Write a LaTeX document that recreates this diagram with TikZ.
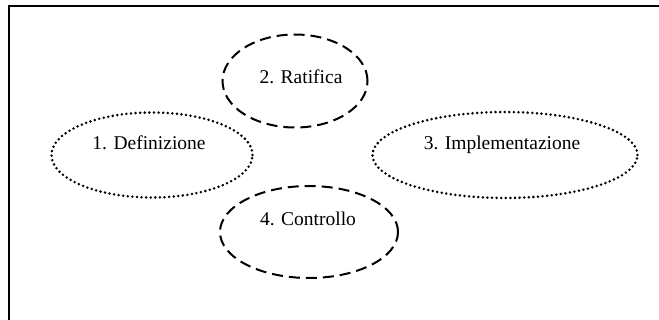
\documentclass[tikz,border=0pt]{standalone}
\usepackage{fontspec}
\setmainfont{Liberation Serif}
\usetikzlibrary{shapes.geometric}
\begin{document}
\begin{tikzpicture}[x=1pt,y=-1pt,
  phase/.style={ellipse,draw=black,line width=2pt,inner sep=0pt},
  dashedphase/.style={phase,dash pattern=on 11pt off 6pt},
  dottedphase/.style={phase,line width=2.8pt,dash pattern=on 0pt off 4.6pt,line cap=round},
  lbl/.style={font=\fontsize{19.5}{22}\selectfont,inner sep=0pt,anchor=base}]
\useasboundingbox (0,0) rectangle (659,320);
\draw[line width=1.6pt] (9,320) -- (9,6) -- (659,6);
\node[dashedphase,minimum width=145pt,minimum height=93pt] (e2) at (295,81) {};
\node[dottedphase,minimum width=201pt,minimum height=85pt] (e1) at (152,155) {};
\node[dottedphase,minimum width=265pt,minimum height=86pt] (e3) at (505,155) {};
\node[dashedphase,minimum width=178pt,minimum height=92pt] (e4) at (309,232) {};
\node[lbl] (t2) at (301,84) {2. Ratifica};
\node[lbl] (t1) at (149,150) {1. Definizione};
\node[lbl] (t3) at (502,150) {3. Implementazione};
\node[lbl] (t4) at (308,226) {4. Controllo};
\end{tikzpicture}
\end{document}
